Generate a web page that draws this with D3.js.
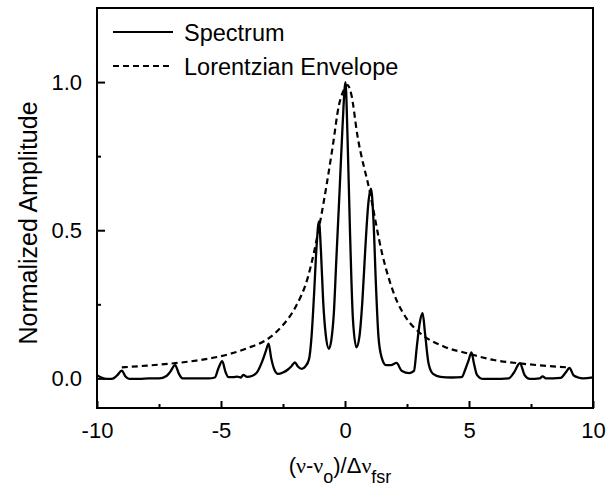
<!DOCTYPE html>
<html lang="en">
<head>
    <meta charset="UTF-8">
    <title>Spectrum and Lorentzian Envelope</title>
    <script type="text/javascript" src="https://d3js.org/d3.v7.min.js"></script>
    <style>
        body { margin: 0; background: #fff; }
        text { font-family: "Liberation Sans", Arial, sans-serif; fill: #000; }
    </style>
</head>
<body>
    <svg class="canvas"></svg>
    <script type="text/javascript">
        var svg_width = 616, svg_height = 493;
        var margin = {left: 97, right: 23, top: 8, bottom: 85};

        // data
        var specX = [-10, -9.85, -9.6, -9.4, -9.2, -9.0, -8.85, -8.7, -8.3, -7.9, -7.5, -7.2, -7.05, -6.85, -6.7, -6.55,
                     -6.0, -5.5, -5.25, -5.1, -4.95, -4.82, -4.7, -4.5, -4.35, -4.2, -4.1, -3.95, -3.75, -3.55, -3.35,
                     -3.2, -3.08, -2.98, -2.85, -2.7, -2.5, -2.3, -2.15, -2.02, -1.9, -1.75, -1.6, -1.45, -1.35, -1.25,
                     -1.15, -1.05, -0.97, -0.88, -0.78, -0.65, -0.55, -0.45, -0.35, -0.22, -0.1, 0.02, 0.1, 0.2, 0.32,
                     0.46, 0.58, 0.7, 0.82, 0.94, 1.05, 1.15, 1.25, 1.35, 1.48, 1.65, 1.85, 2.08, 2.28, 2.6, 2.78, 2.9,
                     3.02, 3.13, 3.23, 3.37, 3.55, 3.85, 4.3, 4.7, 4.85, 4.98, 5.1, 5.2, 5.32, 5.57, 6.0, 6.6, 6.8, 7.05,
                     7.25, 7.45, 7.85, 7.97, 8.1, 8.7, 8.9, 9.05, 9.22, 9.4, 9.6, 10];
        var specY = [0.011, 0.004, -0.002, -0.002, 0.009, 0.026, 0.006, -0.002, -0.002, 0.0, 0.0, 0.008, 0.022, 0.045, 0.016, 0.0,
                     0.0, 0.0, 0.003, 0.035, 0.058, 0.022, 0.004, 0.004, 0.006, 0.003, 0.012, 0.005, 0.008, 0.02, 0.055,
                     0.09, 0.117, 0.07, 0.03, 0.015, 0.02, 0.03, 0.042, 0.054, 0.04, 0.032, 0.04, 0.065, 0.14, 0.28,
                     0.44, 0.53, 0.43, 0.26, 0.15, 0.10, 0.13, 0.22, 0.40, 0.63, 0.85, 1.0, 0.82, 0.5, 0.2,
                     0.105, 0.14, 0.26, 0.44, 0.59, 0.64, 0.53, 0.31, 0.14, 0.07, 0.045, 0.045, 0.052, 0.026, 0.018, 0.025, 0.11,
                     0.19, 0.22, 0.15, 0.05, 0.015, 0.005, 0.003, 0.004, 0.03, 0.06, 0.088, 0.05, 0.012, -0.002, -0.002, 0.0, 0.018, 0.051,
                     0.01, -0.002, 0.0, 0.007, 0.0, 0.002, 0.02, 0.035, 0.01, 0.003, 0.0, 0.003];

        var envX = [-9, -8, -7, -6, -5, -4, -3, -2.5, -2, -1.5, -1, -0.5, -0.25, 0, 0.1, 0.25, 0.5, 1, 1.5, 2, 2.5, 3, 4, 5, 6, 7, 8, 9];
        var envY = [0.037, 0.043, 0.05, 0.06, 0.075, 0.10, 0.14, 0.18, 0.24, 0.34, 0.53, 0.78, 0.92, 0.98, 0.99, 0.96, 0.82, 0.63, 0.42, 0.28, 0.20, 0.155, 0.107, 0.083, 0.062, 0.051, 0.043, 0.037];

        var xMajor = [-10, -5, 0, 5, 10], xMinor = [-7.5, -2.5, 2.5, 7.5];
        var yMajor = [0.0, 0.5, 1.0], yMinor = [0.25, 0.75];
        var legendLabels = ['Spectrum', 'Lorentzian Envelope'];

        var xScale = d3.scaleLinear().domain([-10, 10]).range([margin.left, svg_width - margin.right]),
            yScale = d3.scaleLinear().domain([-0.1, 1.25]).range([svg_height - margin.bottom, margin.top]);

        var svg = d3.select('svg').attr('width', svg_width).attr('height', svg_height);

        var spectrum = specX.map(function(x, i) { return {x: x, y: specY[i]}; });
        var envelope = envX.map(function(x, i) { return {x: x, y: envY[i]}; });

        var line = d3.line()
            .x(function(d) { return xScale(d.x); })
            .y(function(d) { return yScale(d.y); })
            .curve(d3.curveMonotoneX);

        svg.append('path').datum(envelope)
            .attr('d', line)
            .attr('fill', 'none').attr('stroke', '#000')
            .attr('stroke-width', 2.2).attr('stroke-dasharray', '6,4');

        svg.append('path').datum(spectrum)
            .attr('d', line)
            .attr('fill', 'none').attr('stroke', '#000')
            .attr('stroke-width', 2.3).attr('stroke-linejoin', 'round');

        // axes, ticks pointing inside
        var plotH = svg_height - margin.top - margin.bottom;
        var xAxis = svg.append('g').attr('transform', 'translate(0,' + (svg_height - margin.bottom) + ')')
            .call(d3.axisBottom(xScale).tickValues(xMajor).tickSize(-7).tickPadding(14).tickFormat(d3.format('d')));
        svg.append('g').attr('transform', 'translate(0,' + (svg_height - margin.bottom) + ')')
            .call(d3.axisBottom(xScale).tickValues(xMinor).tickSize(-4).tickFormat(''));
        var yAxis = svg.append('g').attr('transform', 'translate(' + margin.left + ',0)')
            .call(d3.axisLeft(yScale).tickValues(yMajor).tickSize(-8).tickPadding(15).tickFormat(d3.format('.1f')));
        svg.append('g').attr('transform', 'translate(' + margin.left + ',0)')
            .call(d3.axisLeft(yScale).tickValues(yMinor).tickSize(-4).tickFormat(''));

        svg.selectAll('.domain').remove();
        svg.selectAll('.tick line').attr('stroke', '#000').attr('stroke-width', 2);
        svg.selectAll('.tick text').attr('font-size', 22).attr('font-family', '"Liberation Sans", Arial, sans-serif').attr('fill', '#000');
        xAxis.selectAll('.tick text').text(function(d) { return d < 0 ? '-' + Math.abs(d) : d; });

        // frame
        svg.append('rect')
            .attr('x', margin.left).attr('y', margin.top)
            .attr('width', svg_width - margin.left - margin.right).attr('height', plotH)
            .attr('fill', 'none').attr('stroke', '#000').attr('stroke-width', 2);

        // legend
        var legend = svg.append('g');
        legendLabels.forEach(function(lbl, i) {
            var ly = 32 + i * 34;
            legend.append('line')
                .attr('x1', 113).attr('x2', 173).attr('y1', ly).attr('y2', ly)
                .attr('stroke', '#000').attr('stroke-width', 2)
                .attr('stroke-dasharray', i === 1 ? '6,4' : null);
            legend.append('text')
                .attr('x', 184).attr('y', ly + 9)
                .attr('font-size', 23.5).text(lbl);
        });

        // axis titles
        svg.append('text')
            .attr('transform', 'translate(37,' + (margin.top + plotH / 2 + 15) + ') rotate(-90)')
            .attr('text-anchor', 'middle').attr('font-size', 25)
            .text('Normalized Amplitude');

        var xt = svg.append('text')
            .attr('x', 340).attr('y', 473)
            .attr('text-anchor', 'middle').attr('font-size', 22);
        xt.append('tspan').text('(');
        xt.append('tspan').attr('font-family', '"Liberation Serif", serif').text('ν');
        xt.append('tspan').text('-');
        xt.append('tspan').attr('font-family', '"Liberation Serif", serif').text('ν');
        xt.append('tspan').attr('font-size', 18).attr('dy', 10).text('o');
        xt.append('tspan').attr('dy', -10).text(')/Δ');
        xt.append('tspan').attr('font-family', '"Liberation Serif", serif').text('ν');
        xt.append('tspan').attr('font-size', 18).attr('dy', 10).text('fsr');
    </script>
</body>
</html>
